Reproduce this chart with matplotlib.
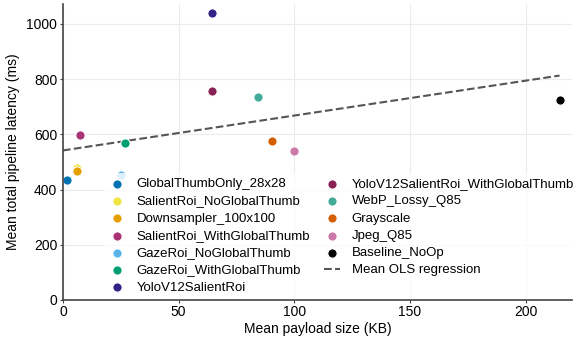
import numpy as np
import matplotlib.pyplot as plt

plt.rcParams['font.family'] = ['Liberation Sans', 'DejaVu Sans']

labels = ["GlobalThumbOnly_28x28", "SalientRoi_NoGlobalThumb", "Downsampler_100x100",
          "SalientRoi_WithGlobalThumb", "GazeRoi_NoGlobalThumb", "GazeRoi_WithGlobalThumb",
          "YoloV12SalientRoi", "YoloV12SalientRoi_WithGlobalThumb", "WebP_Lossy_Q85",
          "Grayscale", "Jpeg_Q85", "Baseline_NoOp"]
payload_kb = [1.7, 6.0, 6.0, 7.4, 25.0, 27.0, 64.5, 64.5, 84.4, 90.5, 100.0, 214.7]
latency_ms = [435, 478, 467, 598, 453, 569, 1040, 757, 735, 576, 540, 725]
colors = ["#0072B2", "#F0E442", "#E69F00", "#AA3377", "#56B4E9", "#009E73",
          "#332288", "#882255", "#44AA99", "#D55E00", "#CC79A7", "#000000"]

fig, ax = plt.subplots(figsize=(5.77, 3.4), dpi=100)
for lab, x, y, c in zip(labels, payload_kb, latency_ms, colors):
    ax.scatter(x, y, s=45, color=c, edgecolor='white', linewidth=0.8, label=lab, zorder=3)

# OLS fit over the mean points
slope, icpt = np.polyfit(payload_kb, latency_ms, 1)
xs = np.array([0, max(payload_kb)])
ax.plot(xs, icpt + slope * xs, ls='--', color='#555555', lw=1.5, label='Mean OLS regression', zorder=2)

ax.set_xlim(0, 220)
ax.set_ylim(0, 1072)
ax.set_xticks([0, 50, 100, 150, 200])
ax.set_yticks([0, 200, 400, 600, 800, 1000])
ax.grid(color='#ebebeb', lw=0.8)
ax.set_axisbelow(True)
for s in ['top', 'right']:
    ax.spines[s].set_visible(False)
for s in ['left', 'bottom']:
    ax.spines[s].set_color('#444444')
    ax.spines[s].set_linewidth(1.2)
    ax.spines[s].set_zorder(6)
ax.tick_params(labelsize=10, color='#444444', length=2, pad=2)
ax.set_xlabel('Mean payload size (KB)', fontsize=10, labelpad=2)
ax.set_ylabel('Mean total pipeline latency (ms)', fontsize=10, labelpad=5)

leg = ax.legend(ncol=2, loc='lower left', bbox_to_anchor=(0.08, 0.003), borderaxespad=0,
                frameon=True, framealpha=0.8, edgecolor='none', fontsize=9.5,
                handlelength=1.2, handletextpad=0.9, columnspacing=1.05, labelspacing=0.38,
                borderpad=0.4)
leg.set_zorder(5)

fig.subplots_adjust(left=0.109, right=0.991, top=0.988, bottom=0.118)
fig.savefig('out.png')
